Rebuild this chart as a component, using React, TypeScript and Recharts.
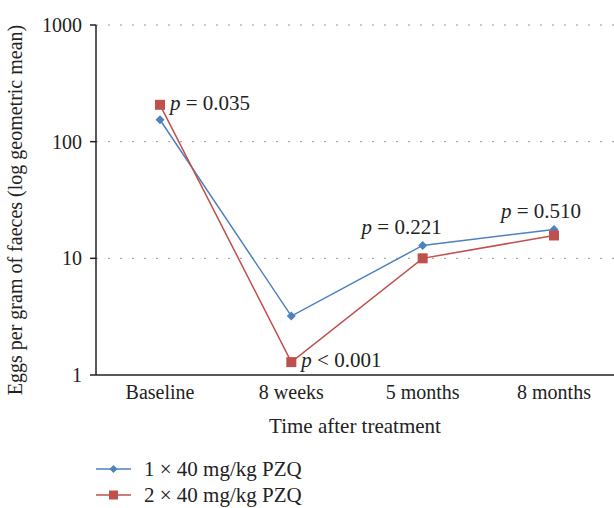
import React from 'react';
import { LineChart, Line, XAxis, YAxis, CartesianGrid, Legend } from 'recharts';

const categories = ['Baseline', '8 weeks', '5 months', '8 months'];
const singleDose = [154, 3.2, 12.9, 17.7];
const doubleDose = [207, 1.29, 10, 15.7];
const yTicks = [1, 10, 100, 1000];

// p-value annotations, one per time point
const singleLabels = ['', '', '0.221', '0.510'];
const doubleLabels = ['0.035', '< 0.001', '', ''];

const BLUE = '#4F81BD';
const RED = '#C0504D';
const FONT = '"Liberation Serif", "DejaVu Serif", serif';

const data = categories.map((name, i) => ({
  name,
  single: singleDose[i],
  double: doubleDose[i],
}));

const PText = ({ x, y, value, anchor }: any) => {
  const op = value.startsWith('<') ? '' : '= ';
  return (
    <text x={x} y={y} textAnchor={anchor} dominantBaseline="central" fontFamily={FONT} fontSize={21} fill="#222">
      <tspan fontStyle="italic">p</tspan>
      <tspan> {op}{value}</tspan>
    </text>
  );
};

const singleLabel = (props: any) => {
  const { x, y, index } = props;
  const value = singleLabels[index];
  if (!value) return null;
  const dx = value === '0.221' ? -21 : -13;
  return <PText key={`s${index}`} x={x + dx} y={y - 18} value={value} anchor="middle" />;
};

const doubleLabel = (props: any) => {
  const { x, y, index } = props;
  const value = doubleLabels[index];
  if (!value) return null;
  return <PText key={`d${index}`} x={x + 10} y={y - 2} value={value} anchor="start" />;
};

const Diamond = (props: any) => {
  const { cx, cy } = props;
  if (cx == null || cy == null) return null;
  const s = 4.5;
  return <path d={`M${cx},${cy - s}L${cx + s},${cy}L${cx},${cy + s}L${cx - s},${cy}Z`} fill={BLUE} />;
};

const Square = (props: any) => {
  const { cx, cy } = props;
  if (cx == null || cy == null) return null;
  return <rect x={cx - 5} y={cy - 5} width={10} height={10} fill={RED} />;
};

const renderLegend = () => (
  <div style={{ fontFamily: FONT, fontSize: 21, color: '#222' }}>
    {[
      { name: '1 × 40 mg/kg PZQ', color: BLUE, shape: 'diamond' },
      { name: '2 × 40 mg/kg PZQ', color: RED, shape: 'square' },
    ].map((item) => (
      <div key={item.name} style={{ display: 'flex', alignItems: 'center', height: 26 }}>
        <svg width={48} height={14}>
          <line x1={0} y1={7} x2={35} y2={7} stroke={item.color} strokeWidth={1.5} />
          {item.shape === 'diamond' ? (
            <path d="M17.5,3L21.5,7L17.5,11L13.5,7Z" fill={item.color} />
          ) : (
            <rect x={13} y={2.5} width={9} height={9} fill={item.color} />
          )}
        </svg>
        <span>{item.name}</span>
      </div>
    ))}
  </div>
);

const App: React.FC = () => (
  <div style={{ position: 'absolute', left: 0, top: 0, background: '#fff' }}>
    <LineChart width={614} height={508} data={data} margin={{ top: 25, right: 0, bottom: 21, left: 0 }}>
      <CartesianGrid vertical={false} stroke="#999" strokeDasharray="2 10" horizontalValues={[10, 100, 1000]} />
      <XAxis
        dataKey="name"
        padding={{ left: 64, right: 60 }}
        tickLine={false}
        axisLine={{ stroke: '#222', strokeWidth: 1.5 }}
        tick={{ fontFamily: FONT, fontSize: 20, fill: '#222' }}
        tickMargin={4}
        height={60}
        label={{ value: 'Time after treatment', position: 'insideBottom', offset: 0, dy: -2, fontFamily: FONT, fontSize: 21, fill: '#222' }}
      />
      <YAxis
        scale="log"
        domain={[1, 1000]}
        ticks={yTicks}
        allowDataOverflow
        width={96}
        tickSize={6}
        tickMargin={8}
        tickLine={{ stroke: '#222', strokeWidth: 1.5 }}
        axisLine={{ stroke: '#222', strokeWidth: 1.5 }}
        tick={{ fontFamily: FONT, fontSize: 20, fill: '#222' }}
        label={{
          value: 'Eggs per gram of faeces (log geometric mean)',
          angle: -90,
          position: 'insideLeft',
          dx: 10,
          dy: 10,
          style: { textAnchor: 'middle' },
          fontFamily: FONT,
          fontSize: 20,
          fill: '#222',
        }}
      />
      <Legend
        content={renderLegend}
        wrapperStyle={{ position: 'absolute', left: 96, top: 456, width: 300 }}
      />
      <Line
        dataKey="single"
        name="1 × 40 mg/kg PZQ"
        stroke={BLUE}
        strokeWidth={1.5}
        dot={<Diamond />}
        activeDot={false}
        isAnimationActive={false}
        label={singleLabel}
      />
      <Line
        dataKey="double"
        name="2 × 40 mg/kg PZQ"
        stroke={RED}
        strokeWidth={1.5}
        dot={<Square />}
        activeDot={false}
        isAnimationActive={false}
        label={doubleLabel}
      />
    </LineChart>
  </div>
);

export default App;
